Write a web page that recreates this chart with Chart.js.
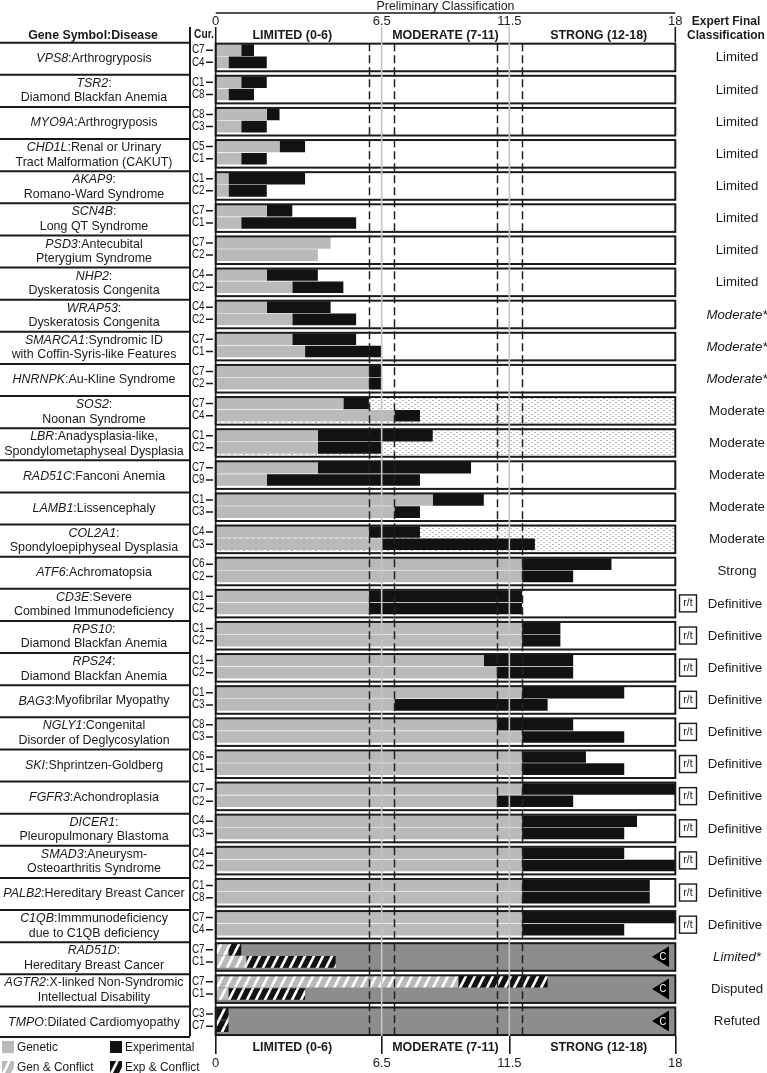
<!DOCTYPE html>
<html>
<head>
<meta charset="utf-8">
<script src="https://cdn.jsdelivr.net/npm/chart.js@4.4.1/dist/chart.umd.min.js"></script>
<style>
html, body { margin: 0; padding: 0; background: #fff; }
canvas { display: block; }
</style>
</head>
<body>
<canvas id="chart" width="767" height="1073"></canvas>
<script>
// genes, top to bottom
var genes = ['VPS8','TSR2','MYO9A','CHD1L','AKAP9','SCN4B','PSD3','NHP2','WRAP53','SMARCA1','HNRNPK',
  'SOS2','LBR','RAD51C','LAMB1','COL2A1','ATF6','CD3E','RPS10','RPS24','BAG3','NGLY1','SKI','FGFR3',
  'DICER1','SMAD3','PALB2','C1QB','RAD51D','AGTR2','TMPO'];
var disease1 = [':Arthrogryposis', ':', ':Arthrogryposis', ':Renal or Urinary', ':', ':', ':Antecubital', ':', ':',
  ':Syndromic ID', ':Au-Kline Syndrome', ':', ':Anadysplasia-like,', ':Fanconi Anemia', ':Lissencephaly', ':',
  ':Achromatopsia', ':Severe', ':', ':', ':Myofibrilar Myopathy', ':Congenital', ':Shprintzen-Goldberg',
  ':Achondroplasia', ':', ':Aneurysm-', ':Hereditary Breast Cancer', ':Immmunodeficiency', ':',
  ':X-linked Non-Syndromic', ':Dilated Cardiomyopathy'];
var disease2 = ['', 'Diamond Blackfan Anemia', '', 'Tract Malformation (CAKUT)', 'Romano-Ward Syndrome',
  'Long QT Syndrome', 'Pterygium Syndrome', 'Dyskeratosis Congenita', 'Dyskeratosis Congenita',
  'with Coffin-Syris-like Features', '', 'Noonan Syndrome', 'Spondylometaphyseal Dysplasia', '', '',
  'Spondyloepiphyseal Dysplasia', '', 'Combined Immunodeficiency', 'Diamond Blackfan Anemia',
  'Diamond Blackfan Anemia', '', 'Disorder of Deglycosylation', '', '', 'Pleuropulmonary Blastoma',
  'Osteoarthritis Syndrome', '', 'due to C1QB deficiency', 'Hereditary Breast Cancer',
  'Intellectual Disability', ''];

// curations (top bar / bottom bar)
var curA = ['C7','C1','C8','C5','C1','C7','C7','C4','C4','C7','C7','C7','C1','C7','C1','C4','C6','C1','C1','C1','C1','C8','C6','C7','C4','C4','C1','C7','C7','C7','C3'];
var curB = ['C4','C8','C3','C1','C2','C1','C2','C2','C2','C1','C2','C4','C2','C9','C3','C3','C2','C2','C2','C2','C3','C3','C1','C2','C3','C2','C8','C4','C1','C1','C7'];

// scores: genetic part and total (genetic + experimental)
var genA = [1, 1, 2, 2.5, 0.5, 2, 4.5, 2, 2, 3, 6, 5, 4, 4, 8.5, 6, 12, 6, 12, 10.5, 12, 11, 12, 12, 12, 12, 12, 12, 0.5, 9.5, 0];
var totA = [1.5, 2, 2.5, 3.5, 3.5, 3, 4.5, 4, 4.5, 5.5, 6.5, 6, 8.5, 10, 10.5, 8, 15.5, 12, 13.5, 14, 16, 14, 14.5, 18, 16.5, 16, 17, 18, 1, 13, 0.5];
var genB = [0.5, 0.5, 1, 1, 0.5, 1, 4, 3, 3, 3.5, 6, 7, 4, 2, 7, 6.5, 12, 6, 12, 11, 7, 12, 12, 11, 12, 12, 12, 12, 1.2, 0.5, 0];
var totB = [2, 1.5, 2, 2, 2, 5.5, 4, 5, 5.5, 6.5, 6.5, 8, 6.5, 8, 8, 12.5, 14, 12, 13.5, 14, 13, 16, 16, 14, 16, 18, 17, 16, 4.7, 3.5, 0.5];

var finalCls = ['Limited','Limited','Limited','Limited','Limited','Limited','Limited','Limited',
  'Moderate*','Moderate*','Moderate*','Moderate','Moderate','Moderate','Moderate','Moderate','Strong',
  'Definitive','Definitive','Definitive','Definitive','Definitive','Definitive','Definitive','Definitive',
  'Definitive','Definitive','Definitive','Limited*','Disputed','Refuted'];
var dottedRows = ['SOS2','LBR','COL2A1'];
var conflictRows = ['RAD51D','AGTR2','TMPO'];

var tickVals = [0, 6.5, 11.5, 18];
var cutoffs = [6, 7, 11, 12];
var bandNames = ['LIMITED (0-6)', 'MODERATE (7-11)', 'STRONG (12-18)'];
var bandMids = [3, 9, 15];

var expA = totA.map(function(t, i) { return t - genA[i]; });
var expB = totB.map(function(t, i) { return t - genB[i]; });

var GRAY = '#bababa', BLACK = '#121212', DARK = '#8d8d8d', INK = '#1a1a1a';
var FONT = '"Liberation Sans", Arial, sans-serif';

function makePattern(w, h, draw) {
  var cv = document.createElement('canvas');
  cv.width = w; cv.height = h;
  draw(cv.getContext('2d'));
  return cv.getContext('2d').createPattern(cv, 'repeat');
}
function stripes(bg) {
  return makePattern(9, 18, function(p) {
    p.fillStyle = bg; p.fillRect(0, 0, 9, 18);
    p.strokeStyle = '#fff'; p.lineWidth = 2.6;
    p.beginPath();
    [-9, 0, 9].forEach(function(a) { p.moveTo(a, 18); p.lineTo(a + 9, 0); });
    p.stroke();
  });
}
var genStripe = stripes(GRAY);
var expStripe = stripes(BLACK);
var dotPat = makePattern(6, 4, function(p) {
  p.fillStyle = '#fff'; p.fillRect(0, 0, 6, 4);
  p.fillStyle = '#b4b4b4';
  p.fillRect(0, 0, 2, 1); p.fillRect(3, 2, 2, 1);
});

function isConflict(i) { return conflictRows.indexOf(genes[i]) >= 0; }

// narrow text: the original uses a condensed face
function txt(c, s, x, y, font, align, sx) {
  c.save();
  c.font = font; c.textAlign = align || 'center';
  c.translate(x, y); c.scale(sx || 0.92, 1);
  c.fillText(s, 0, 0);
  c.restore();
}
function width(c, s, font, sx) { c.font = font; return c.measureText(s).width * (sx || 0.92); }

var panels = {
  id: 'panels',
  beforeDatasetsDraw: function(chart) {
    var c = chart.ctx, x = chart.scales.x, y = chart.scales.y;
    var L = x.getPixelForValue(0), R = x.getPixelForValue(18);
    c.save();
    genes.forEach(function(g, i) {
      var m = y.getPixelForValue(i);
      c.fillStyle = isConflict(i) ? DARK : (dottedRows.indexOf(g) >= 0 ? dotPat : '#fff');
      c.fillRect(L, m - 12.6, R - L, 27.6);
    });
    c.restore();
  },
  afterDatasetsDraw: function(chart) {
    var c = chart.ctx, x = chart.scales.x, y = chart.scales.y, a = chart.chartArea;
    var L = x.getPixelForValue(0), R = x.getPixelForValue(18);
    c.save();
    // cut-off dashed lines
    c.strokeStyle = '#222'; c.lineWidth = 1.5; c.setLineDash([8, 4]);
    cutoffs.forEach(function(v) {
      var px = Math.round(x.getPixelForValue(v)) + 0.5;
      c.beginPath(); c.moveTo(px, a.top + 3); c.lineTo(px, a.bottom); c.stroke();
    });
    c.setLineDash([]);
    // panel frames
    c.strokeStyle = INK; c.lineWidth = 2;
    genes.forEach(function(g, i) {
      var m = y.getPixelForValue(i);
      c.strokeRect(L, m - 12.6, R - L, 27.6);
    });
    // classification boundaries
    c.strokeStyle = '#c4c4c4'; c.lineWidth = 1.6;
    [6.5, 11.5].forEach(function(v) {
      var px = x.getPixelForValue(v);
      c.beginPath(); c.moveTo(px, 27); c.lineTo(px, a.bottom); c.stroke();
    });
    c.strokeStyle = INK; c.lineWidth = 1.6;
    c.beginPath(); c.moveTo(L, 27); c.lineTo(L, a.bottom); c.stroke();
    c.beginPath(); c.moveTo(R, 27); c.lineTo(R, a.top + 2); c.stroke();
    // left column rules
    c.lineWidth = 2;
    c.beginPath(); c.moveTo(190, 27); c.lineTo(190, a.bottom); c.stroke();
    genes.forEach(function(g, i) {
      var m = y.getPixelForValue(i);
      c.beginPath(); c.moveTo(0, m - 13.6); c.lineTo(190, m - 13.6); c.stroke();
    });
    c.beginPath(); c.moveTo(0, a.bottom + 1); c.lineTo(190, a.bottom + 1); c.stroke();

    c.fillStyle = INK; c.textBaseline = 'middle';
    // title and headers
    txt(c, 'Preliminary Classification', (L + R) / 2, 6, '13px ' + FONT, 'center', 0.95);
    c.lineWidth = 1.6;
    c.beginPath(); c.moveTo(L, 13); c.lineTo(R, 13); c.stroke();
    var hb = 'bold 13px ' + FONT;
    txt(c, 'Gene Symbol:Disease', 93, 35, hb, 'center', 0.95);
    txt(c, 'Expert Final', 726, 21, hb, 'center', 0.92);
    txt(c, 'Classification', 726, 35, hb, 'center', 0.92);
    txt(c, 'Cur.', 204, 35, 'bold 12px ' + FONT, 'center', 0.85);
    bandNames.forEach(function(n, k) {
      var px = x.getPixelForValue(bandMids[k]);
      txt(c, n, px, 35, hb, 'center', 0.96);
      txt(c, n, px, 1047, hb, 'center', 0.96);
    });

    var fi = 'italic 13.5px ' + FONT, fn = '13.5px ' + FONT;
    genes.forEach(function(g, i) {
      var m = y.getPixelForValue(i);
      // gene label
      var lines = disease2[i] ? [[g, disease1[i]], ['', disease2[i]]] : [[g, disease1[i]]];
      var y0 = m + 2 - (lines.length - 1) * 7.2;
      lines.forEach(function(ln, k) {
        var w1 = width(c, ln[0], fi), w2 = width(c, ln[1], fn);
        var x0 = 94 - (w1 + w2) / 2, yy = y0 + k * 14.4;
        txt(c, ln[0], x0, yy, fi, 'left');
        txt(c, ln[1], x0 + w1, yy, fn, 'left');
      });
      // curation labels
      txt(c, curA[i], 192, m - 6.1, '12px ' + FONT, 'left', 0.82);
      txt(c, curB[i], 192, m + 6.1, '12px ' + FONT, 'left', 0.82);
      c.lineWidth = 1.5;
      c.beginPath();
      c.moveTo(206, m - 6.1); c.lineTo(213, m - 6.1);
      c.moveTo(206, m + 6.1); c.lineTo(213, m + 6.1);
      c.stroke();
      // final classification
      var fc = finalCls[i];
      txt(c, fc, fc === 'Definitive' ? 735 : 737, m + 1.5,
          (fc.indexOf('*') >= 0 ? 'italic ' : '') + '13.5px ' + FONT, 'center', 0.98);
      if (fc === 'Definitive') {
        c.lineWidth = 1.4;
        c.strokeRect(679.5, m - 7.5, 17, 17);
        txt(c, 'r/t', 688, m + 1, '11px ' + FONT, 'center', 0.95);
      }
      // contradictory evidence marker
      if (isConflict(i)) {
        c.fillStyle = '#000';
        c.beginPath();
        c.moveTo(652, m + 1); c.lineTo(669, m - 9.5); c.lineTo(669, m + 11.5); c.closePath(); c.fill();
        c.fillStyle = '#fff';
        txt(c, 'C', 663, m + 1.5, '11px ' + FONT, 'center', 0.85);
        c.fillStyle = INK;
      }
    });

    // legend
    var leg = [[GRAY, 'Genetic', 2, 1047], [BLACK, 'Experimental', 110, 1047],
               [genStripe, 'Gen & Conflict', 2, 1067], [expStripe, 'Exp & Conflict', 110, 1067]];
    leg.forEach(function(e) {
      c.fillStyle = e[0]; c.fillRect(e[2], e[3] - 6, 12, 12);
      c.fillStyle = INK;
      txt(c, e[1], e[2] + 15, e[3] + 0.5, '13.5px ' + FONT, 'left', 0.88);
    });
    c.restore();
  }
};

function ds(label, data, stack, plain, striped) {
  return {
    label: label, data: data, stack: stack, borderWidth: 0,
    backgroundColor: function(ctx) { return isConflict(ctx.dataIndex) ? striped : plain; },
    categoryPercentage: 0.76, barPercentage: 0.95
  };
}

new Chart(document.getElementById('chart'), {
  type: 'bar',
  data: {
    labels: genes,
    datasets: [
      ds('Genetic A', genA, 'a', GRAY, genStripe),
      ds('Experimental A', expA, 'a', BLACK, expStripe),
      ds('Genetic B', genB, 'b', GRAY, genStripe),
      ds('Experimental B', expB, 'b', BLACK, expStripe)
    ]
  },
  options: {
    indexAxis: 'y',
    responsive: false,
    animation: false,
    layout: { padding: { left: 215.7, right: 91.7, top: 13.6, bottom: 1.3 } },
    plugins: { legend: { display: false }, tooltip: { enabled: false } },
    scales: {
      x: {
        type: 'linear', min: 0, max: 18, stacked: true, position: 'bottom',
        afterBuildTicks: function(s) { s.ticks = tickVals.map(function(v) { return { value: v }; }); },
        afterFit: function(s) { s.height = 35.6; },
        grid: { drawOnChartArea: false, drawTicks: true, tickLength: 18, color: INK, lineWidth: 1.6 },
        border: { display: false },
        ticks: { font: { size: 13, family: FONT }, color: '#222', padding: 2, autoSkip: false, maxRotation: 0,
                 callback: function(v) { return String(v); } }
      },
      x2: {
        type: 'linear', min: 0, max: 18, position: 'top',
        afterBuildTicks: function(s) { s.ticks = tickVals.map(function(v) { return { value: v }; }); },
        afterFit: function(s) { s.height = 26.6; },
        grid: { display: false, drawTicks: false },
        border: { display: false },
        ticks: { font: { size: 13, family: FONT }, color: '#222', padding: 11, autoSkip: false, maxRotation: 0,
                 callback: function(v) { return String(v); } }
      },
      y: { type: 'category', stacked: true, display: false, offset: true }
    }
  },
  plugins: [panels]
});
</script>
</body>
</html>
